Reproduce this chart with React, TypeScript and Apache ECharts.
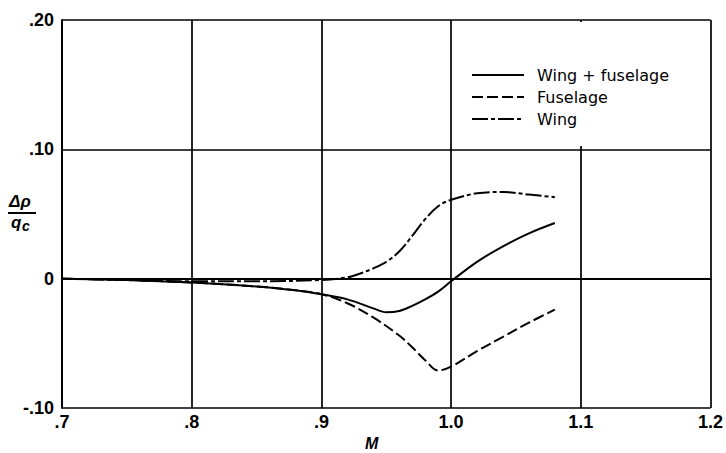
import React, { useEffect, useRef } from "react";
import * as echarts from "echarts";

const xTicks = [0.7, 0.8, 0.9, 1.0, 1.1, 1.2];
const yTicks = [-0.1, 0, 0.1, 0.2];

const machWF = [0.70, 0.75, 0.80, 0.85, 0.88, 0.90, 0.92, 0.94, 0.95, 0.96, 0.97, 0.98, 0.99, 1.00, 1.02, 1.04, 1.06, 1.08];
const wingFuselage = [0, -0.001, -0.003, -0.006, -0.009, -0.012, -0.016, -0.023, -0.026, -0.025, -0.021, -0.016, -0.010, -0.002, 0.013, 0.025, 0.035, 0.043];

const machF = [0.70, 0.75, 0.80, 0.85, 0.88, 0.90, 0.92, 0.94, 0.96, 0.97, 0.98, 0.99, 1.00, 1.02, 1.04, 1.06, 1.08];
const fuselage = [0, -0.001, -0.003, -0.006, -0.009, -0.012, -0.019, -0.030, -0.044, -0.053, -0.063, -0.071, -0.068, -0.056, -0.045, -0.034, -0.024];

const machW = [0.70, 0.75, 0.80, 0.85, 0.90, 0.92, 0.93, 0.94, 0.95, 0.96, 0.97, 0.98, 0.99, 1.00, 1.02, 1.04, 1.06, 1.08];
const wing = [0, -0.001, -0.002, -0.002, -0.001, 0.001, 0.004, 0.008, 0.013, 0.021, 0.033, 0.046, 0.056, 0.061, 0.066, 0.067, 0.065, 0.063];

const seriesNames = ["Wing + fuselage", "Fuselage", "Wing"];

const FONT = "Liberation Sans";

function pair(xs: number[], ys: number[]) {
  return xs.map((x, i) => [x, ys[i]]);
}

export default function App() {
  const ref = useRef<HTMLDivElement>(null);
  useEffect(() => {
    if (!ref.current) return;
    const chart = echarts.init(ref.current, null, { renderer: "svg" });
    const lineBase = { color: "#000", width: 2 };
    chart.setOption({
      animation: false,
      backgroundColor: "#fff",
      grid: { left: 62, right: 13, top: 20, bottom: 45 },
      xAxis: {
        type: "value",
        min: xTicks[0],
        max: xTicks[xTicks.length - 1],
        interval: 0.1,
        axisLine: { show: true, lineStyle: { color: "#000", width: 1.8 } },
        axisTick: { show: false },
        splitLine: { show: true, lineStyle: { color: "#000", width: 1.7 } },
        axisLabel: {
          margin: 5,
          color: "#000",
          fontFamily: FONT,
          fontWeight: "bold",
          fontSize: 18,
          formatter: (v: number) => (v < 1 ? "." + Math.round(v * 10) : v.toFixed(1)),
        },
      },
      yAxis: {
        type: "value",
        min: yTicks[0],
        max: yTicks[yTicks.length - 1],
        interval: 0.1,
        axisLine: { show: true, lineStyle: { color: "#000", width: 1.8 } },
        axisTick: { show: false },
        splitLine: { show: true, lineStyle: { color: "#000", width: 1.7 } },
        axisLabel: {
          margin: 8,
          color: "#000",
          fontFamily: FONT,
          fontWeight: "bold",
          fontSize: 18,
          formatter: (v: number) => {
            if (Math.abs(v) < 1e-9) return "0";
            return v.toFixed(2).replace("0.", ".");
          },
        },
      },
      legend: {
        orient: "vertical",
        left: 466,
        top: 62,
        itemWidth: 52,
        itemHeight: 14,
        itemGap: 6,
        itemStyle: { opacity: 0 },
        textStyle: { color: "#000", fontFamily: "DejaVu Sans", fontSize: 16, padding: [0, 0, 0, 8] },
        data: seriesNames,
      },
      graphic: [
        { type: "rect", z: 1, shape: { x: 466, y: 22, width: 243, height: 124 }, style: { fill: "#fff" } },
        {
          type: "text",
          left: 9,
          top: 193,
          style: { text: "Δρ", font: `italic bold 17px ${FONT}`, fill: "#000" },
        },
        { type: "line", shape: { x1: 8, y1: 213, x2: 36, y2: 213 }, style: { stroke: "#000", lineWidth: 2 } },
        {
          type: "text",
          left: 11,
          top: 214,
          style: { text: "q", font: `italic bold 17px ${FONT}`, fill: "#000" },
        },
        {
          type: "text",
          left: 22,
          top: 219,
          style: { text: "c", font: `italic bold 14px ${FONT}`, fill: "#000" },
        },
        {
          type: "text",
          left: 365,
          top: 435,
          style: { text: "M", font: `italic bold 16px ${FONT}`, fill: "#000" },
        },
      ],
      series: [
        {
          name: seriesNames[0],
          type: "line",
          data: pair(machWF, wingFuselage),
          showSymbol: false,
          symbol: "none",
          smooth: 0.35,
          lineStyle: { ...lineBase, type: "solid" },
          itemStyle: { color: "#000" },
        },
        {
          name: seriesNames[1],
          type: "line",
          data: pair(machF, fuselage),
          showSymbol: false,
          symbol: "none",
          smooth: 0.35,
          lineStyle: { ...lineBase, type: [11, 4] },
          itemStyle: { color: "#000" },
        },
        {
          name: seriesNames[2],
          type: "line",
          data: pair(machW, wing),
          showSymbol: false,
          symbol: "none",
          smooth: 0.35,
          lineStyle: { ...lineBase, type: [16, 3, 4, 3] },
          itemStyle: { color: "#000" },
        },
      ],
    });
    return () => chart.dispose();
  }, []);
  return <div ref={ref} style={{ width: 726, height: 453, position: "fixed", left: 0, top: 0 }} />;
}
